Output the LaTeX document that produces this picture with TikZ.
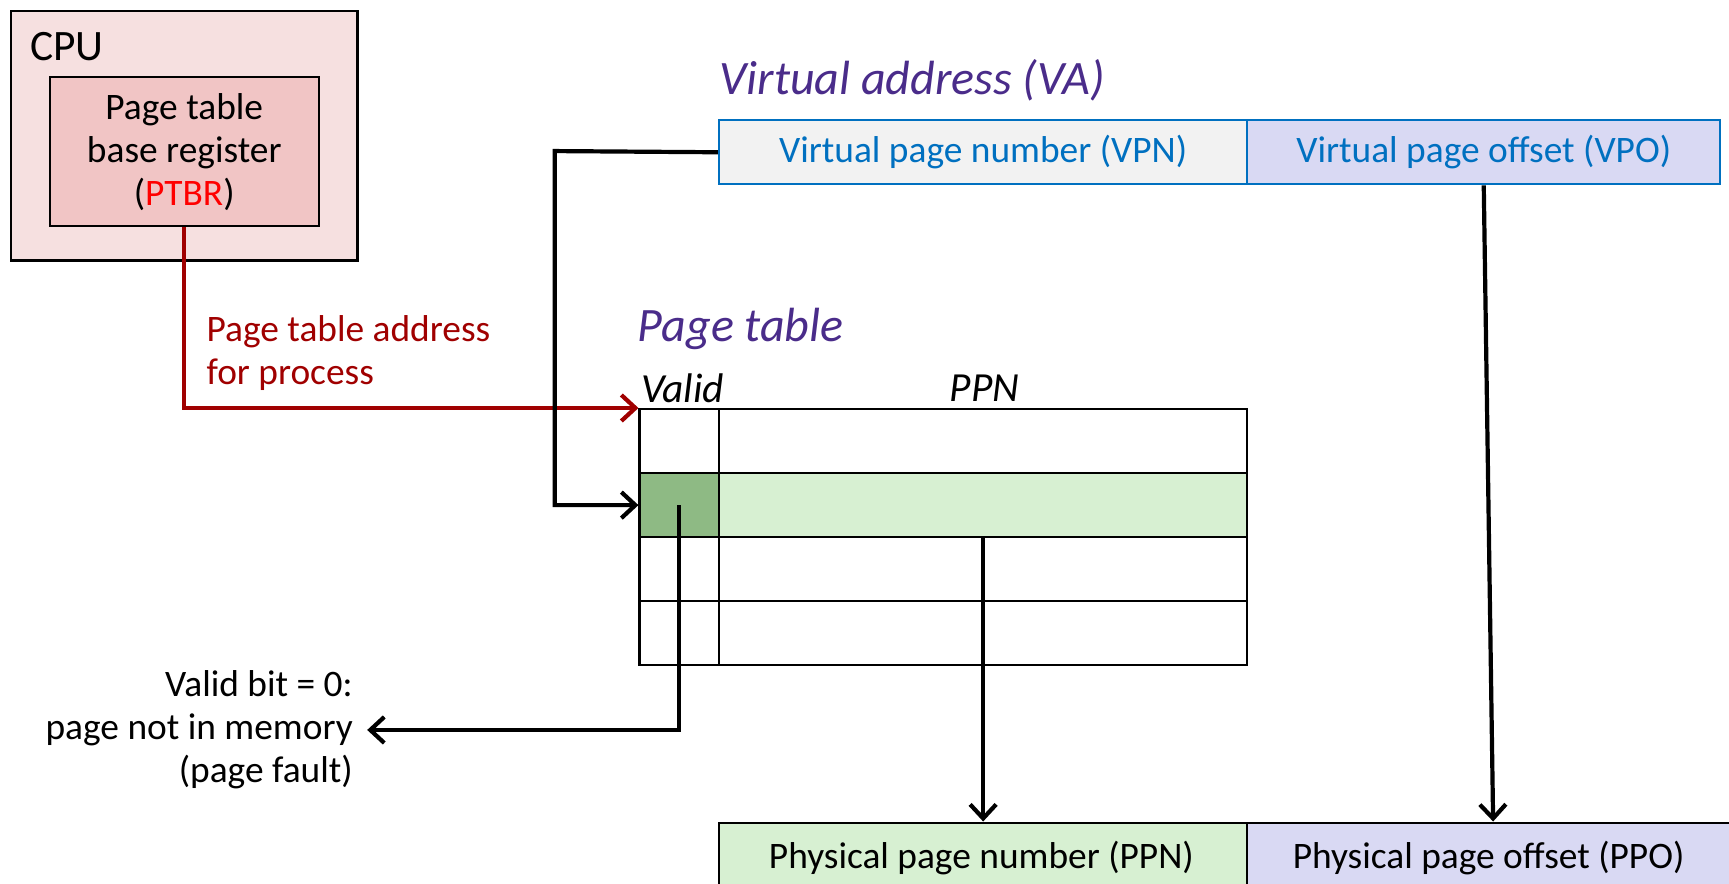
\documentclass[tikz,border=0pt]{standalone}
\usepackage{fontspec}
\setmainfont{Carlito}
\usetikzlibrary{arrows.meta}
\definecolor{cpuout}{HTML}{F6E0E0}
\definecolor{cpuin}{HTML}{F1C5C5}
\definecolor{ttl}{HTML}{4A2C8A}
\definecolor{vablue}{HTML}{0070C0}
\definecolor{vpnfill}{HTML}{F2F2F2}
\definecolor{lav}{HTML}{D9D9F3}
\definecolor{lgreen}{HTML}{D7F0D2}
\definecolor{dgreen}{HTML}{8EBA84}
\definecolor{dred}{HTML}{A00000}
\def\uu{0.55137pt}
\begin{document}
\begin{tikzpicture}[x=0.55137pt,y=-0.55137pt,
  box/.style={draw=black,line width=1.2pt,anchor=north west,inner sep=0pt},
  cell/.style={box,minimum width=#1*\uu,minimum height=58*\uu},
  conn/.style={line width=2.1pt,-{Straight Barb[length=7pt,width=13pt,line width=2.1pt]}},
  ttlfont/.style={font=\fontsize{24}{28}\selectfont\itshape,text=ttl,inner sep=0pt},
  body/.style={font=\fontsize{18.7}{21.5}\selectfont,inner sep=0pt}]
\clip (0,0) rectangle (1568,801);
\useasboundingbox (0,0) rectangle (1568,801);
% CPU
\node[box,fill=cpuout,minimum width=314*\uu,minimum height=226*\uu] (cpu) at (9,9) {};
\node[anchor=west,inner sep=0pt,font=\fontsize{21.7}{26}\selectfont] (cpulbl) at (27,42) {CPU};
\node[box,fill=cpuin,minimum width=244*\uu,minimum height=135*\uu,align=center,body] (ptbr) at (44,69)
  {Page table\\base register\\(\textcolor{red}{PTBR})};
% Virtual address
\node[ttlfont,anchor=west] (vatitle) at (652,73) {Virtual address (VA)};
\node[box,draw=vablue,line width=1.2pt,fill=vpnfill,minimum width=479*\uu,minimum height=58*\uu,body,text=vablue] (vpn) at (651,108) {Virtual page number (VPN)};
\node[box,draw=vablue,line width=1.2pt,fill=lav,minimum width=429*\uu,minimum height=58*\uu,body,text=vablue] (vpo) at (1130,108) {Virtual page offset (VPO)};
% Page table
\node[ttlfont,anchor=west] (pttitle) at (578,298) {Page table};
\node[anchor=west,inner sep=0pt,font=\fontsize{20.7}{24}\selectfont\itshape] (validhd) at (581,352) {Valid};
\node[inner sep=0pt,font=\fontsize{20.7}{24}\selectfont\itshape] (ppnhd) at (893,352) {PPN};
\node[cell=72] (v1) at (579,370) {};
\node[cell=479] (p1) at (651,370) {};
\node[cell=72,fill=dgreen] (v2) at (579,428) {};
\node[cell=479,fill=lgreen] (p2) at (651,428) {};
\node[cell=72] (v3) at (579,486) {};
\node[cell=479] (p3) at (651,486) {};
\node[cell=72] (v4) at (579,544) {};
\node[cell=479] (p4) at (651,544) {};
% Physical address
\node[box,fill=lgreen,minimum width=479*\uu,minimum height=70*\uu] (ppn) at (651,745) {};
\node[body] (ppntxt) at (890,778) {Physical page number (PPN)};
\node[box,fill=lav,minimum width=446*\uu,minimum height=70*\uu] (ppo) at (1130,745) {};
\node[body] (ppotxt) at (1350,778) {Physical page offset (PPO)};
% labels
\node[body,anchor=west,align=left,text=dred] (ptaddr) at (187,320) {Page table address\\for process};
\node[body,anchor=east,align=right,inner xsep=7pt] (vbit) at (333,662) {Valid bit = 0:\\page not in memory\\(page fault)};
% connectors
\coordinate (vbend) at (503,137);
\draw[conn,draw=dred] (ptbr.south) |- (v1.north west);
\draw[conn] (vpn.west) -- (vbend) |- (v2.west);
\draw[conn] (v2.center) |- (vbit.east);
\draw[conn] (p2.south) -- (ppn.north);
\draw[conn] (vpo.south) -- (ppo.north);
\end{tikzpicture}
\end{document}
